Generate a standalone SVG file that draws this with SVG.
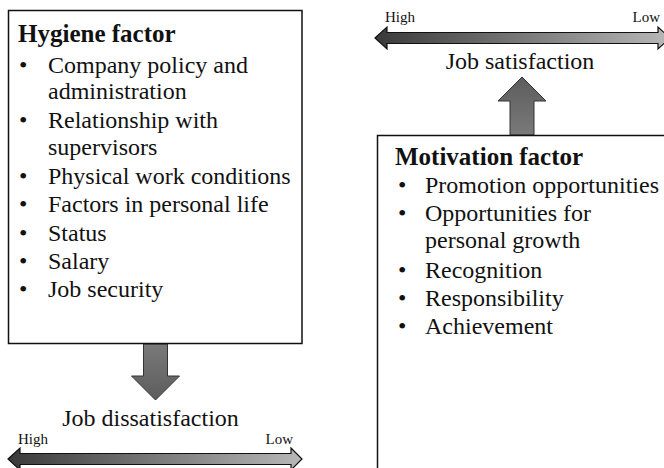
<svg xmlns="http://www.w3.org/2000/svg" width="664" height="468" viewBox="0 0 664 468">
<defs>
<linearGradient id="scale" x1="0" y1="0" x2="1" y2="0">
<stop offset="0" stop-color="#3a3a3a"/>
<stop offset="1" stop-color="#b8b8b8"/>
</linearGradient>
<linearGradient id="blockDown" x1="0" y1="0" x2="0" y2="1">
<stop offset="0" stop-color="#7a7a7a"/>
<stop offset="1" stop-color="#5c5c5c"/>
</linearGradient>
<linearGradient id="blockUp" x1="0" y1="0" x2="0" y2="1">
<stop offset="0" stop-color="#5c5c5c"/>
<stop offset="1" stop-color="#7a7a7a"/>
</linearGradient>
</defs>
<style>
.box{fill:#fff;stroke:#111;stroke-width:1.5}
.t{font-family:"Liberation Serif","Times New Roman",serif;font-size:24px;fill:#111}
.h{font-family:"Liberation Serif","Times New Roman",serif;font-size:25px;font-weight:bold;fill:#111}
.s{font-family:"Liberation Serif","Times New Roman",serif;font-size:15px;fill:#111}
.scale{fill:url(#scale);stroke:#111;stroke-width:1.2}
.blk{stroke:#333;stroke-width:1}
</style>
<rect width="664" height="468" fill="#fff"/>

<g id="connectors">
<path class="blk" fill="url(#blockDown)" d="M143.5,344 L167.5,344 L167.5,376 L179.5,376 L155.5,400 L131.5,376 L143.5,376 Z"/>
<path class="blk" fill="url(#blockUp)" d="M522,77 L546,101 L534,101 L534,135 L510,135 L510,101 L498,101 Z"/>
</g>

<g id="hygiene">
<rect class="box" x="8.5" y="10.5" width="293.5" height="333"/>
<text class="h" x="18" y="42">Hygiene factor</text>
<g class="t">
<text x="19" y="73">•</text><text x="48" y="73">Company policy and</text>
<text x="48" y="99">administration</text>
<text x="19" y="128">•</text><text x="48" y="128">Relationship with</text>
<text x="48" y="155">supervisors</text>
<text x="19" y="184">•</text><text x="48" y="184">Physical work conditions</text>
<text x="19" y="212">•</text><text x="48" y="212">Factors in personal life</text>
<text x="19" y="241">•</text><text x="48" y="241">Status</text>
<text x="19" y="269">•</text><text x="48" y="269">Salary</text>
<text x="19" y="297">•</text><text x="48" y="297">Job security</text>
</g>
</g>

<g id="motivation">
<rect class="box" x="377.5" y="135.5" width="300" height="345"/>
<text class="h" x="395" y="165">Motivation factor</text>
<g class="t">
<text x="398" y="193">•</text><text x="425" y="193">Promotion opportunities</text>
<text x="398" y="221">•</text><text x="425" y="221">Opportunities for</text>
<text x="425" y="248">personal growth</text>
<text x="398" y="278">•</text><text x="425" y="278">Recognition</text>
<text x="398" y="306">•</text><text x="425" y="306">Responsibility</text>
<text x="398" y="334">•</text><text x="425" y="334">Achievement</text>
</g>
</g>

<g id="dissatisfaction">
<text class="t" x="150.5" y="426" text-anchor="middle">Job dissatisfaction</text>
<path class="scale" d="M8,459 L20,448 L20,453.5 L291,453.5 L291,448 L302,459 L291,470 L291,464.5 L20,464.5 L20,470 Z"/>
<text class="s" x="18" y="444">High</text>
<text class="s" x="293" y="444" text-anchor="end">Low</text>
</g>

<g id="satisfaction">
<path class="scale" d="M375,38 L387,27 L387,32.5 L658,32.5 L658,27 L670,38 L658,49 L658,43.5 L387,43.5 L387,49 Z"/>
<text class="s" x="385" y="22">High</text>
<text class="s" x="660" y="22" text-anchor="end">Low</text>
<text class="t" x="520" y="69" text-anchor="middle">Job satisfaction</text>
</g>
</svg>
